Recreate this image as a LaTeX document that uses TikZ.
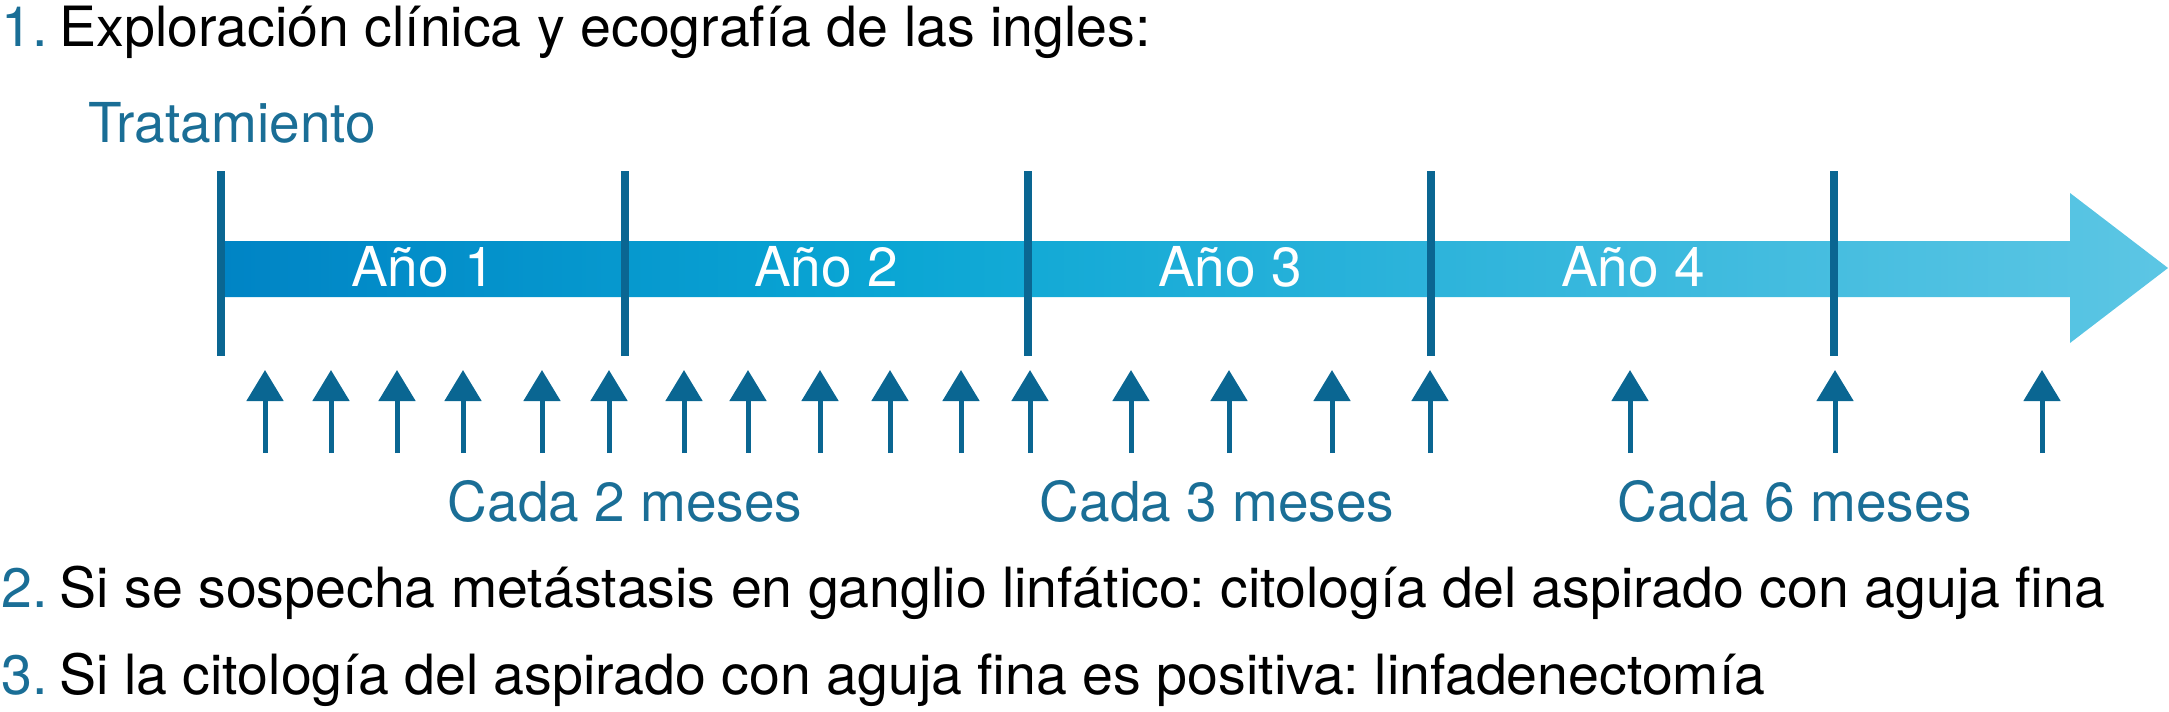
\documentclass[tikz,border=0pt]{standalone}
\usepackage{fontspec}
\setmainfont{TeX Gyre Heros}
\usetikzlibrary{arrows.meta}
\frenchspacing
\definecolor{tealtext}{RGB}{26,110,150}
\definecolor{tickc}{RGB}{10,102,146}
\definecolor{barA}{RGB}{0,132,197}
\definecolor{barB}{RGB}{10,166,212}
\definecolor{barC}{RGB}{92,198,228}
\pgfdeclarehorizontalshading{barshade}{100bp}{color(0bp)=(barA); color(25bp)=(barA); color(42bp)=(barB); color(75bp)=(barC); color(100bp)=(barC)}
\newcommand{\stepnum}[1]{\textcolor{tealtext}{#1}\hspace{12pt}}
\tikzset{
  txt/.style={anchor=base west, inner sep=0pt, font=\fontsize{55.5}{66}\selectfont},
  ctxt/.style={anchor=base, inner sep=0pt, font=\fontsize{55}{66}\selectfont},
  yearlbl/.style={ctxt, text=white},
  freqlbl/.style={ctxt, text=tealtext},
  tickline/.style={draw=tickc, line width=8pt},
  visit/.style={draw=tickc, line width=5pt, -{Triangle[width=36pt,length=31pt]}, fill=tickc}
}
\begin{document}
\begin{tikzpicture}[x=1pt,y=-1pt]
\useasboundingbox (0,0) rectangle (2169,712);
% heading
\node[txt] (l1) at (1,46) {\stepnum{1.}Exploración clínica y ecografía de las ingles:};
\node[txt, text=tealtext, font=\fontsize{55}{66}\selectfont] (trat) at (88,142) {Tratamiento};
% bar with arrow head
\shade[shading=barshade] (221,241) -- (2070,241) -- (2070,193) -- (2168,268) -- (2070,343) -- (2070,297) -- (221,297) -- cycle;
% ticks
\foreach \i/\x in {0/221,1/625,2/1028,3/1431,4/1834}{
  \coordinate (ta\i) at (\x,171);
  \coordinate (tb\i) at (\x,356);
  \draw[tickline] (ta\i) -- (tb\i);
}
% year labels
\node[yearlbl] (y1) at (423,286) {Año 1};
\node[yearlbl] (y2) at (826,286) {Año 2};
\node[yearlbl] (y3) at (1230,286) {Año 3};
\node[yearlbl] (y4) at (1633,286) {Año 4};
% visit arrows
\foreach \x [count=\n] in {265,331,397,463,542,609,684,748,820,890,961,1030,1131,1229,1332,1430,1630,1835,2042}{
  \coordinate (vb\n) at (\x,453);
  \coordinate (vt\n) at (\x,370);
  \draw[visit] (vb\n) -- (vt\n);
}
% frequency labels
\node[freqlbl] (f2) at (625,521) {Cada 2 meses};
\node[freqlbl] (f3) at (1217,521) {Cada 3 meses};
\node[freqlbl] (f6) at (1795,521) {Cada 6 meses};
% steps 2 and 3
\node[txt] (l2) at (1,607) {\stepnum{2.}Si se sospecha metástasis en ganglio linfático: citología del aspirado con aguja fina};
\node[txt] (l3) at (1,694) {\stepnum{3.}Si la citología del aspirado con aguja fina es positiva: linfadenectomía};
\end{tikzpicture}
\end{document}
